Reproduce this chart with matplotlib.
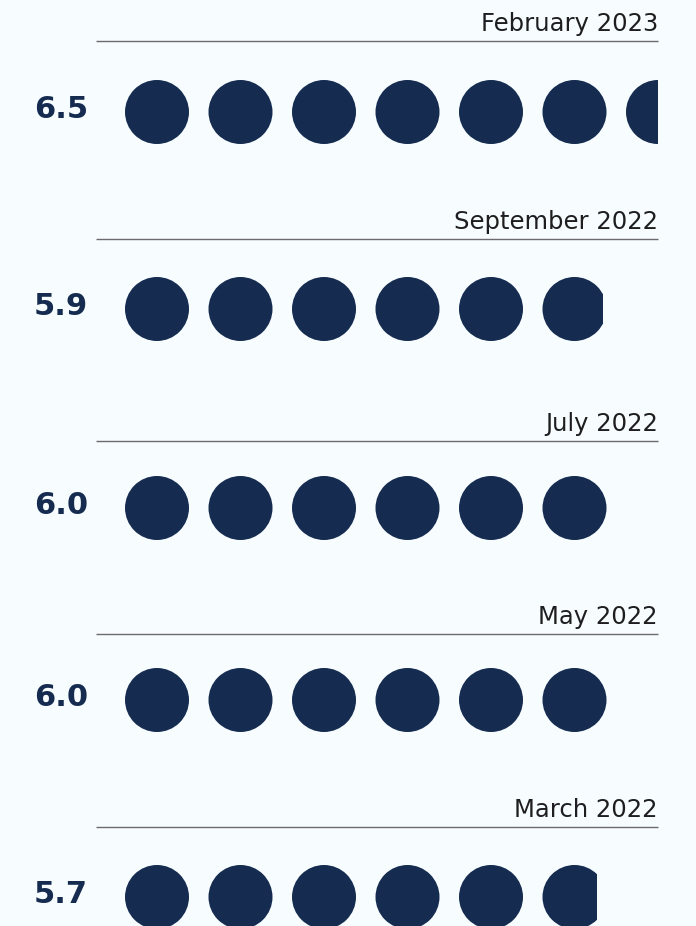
import matplotlib
matplotlib.use("Agg")
import matplotlib.pyplot as plt
from matplotlib.patches import Circle, Rectangle
import math

dates = ["February 2023", "September 2022", "July 2022", "May 2022", "March 2022"]
values = [6.5, 5.9, 6.0, 6.0, 5.7]
value_labels = ["6.5", "5.9", "6.0", "6.0", "5.7"]

# layout (pixels)
W, H = 696, 926
line_y = [41, 239, 441, 634, 827]
dot_y = [112, 309, 508, 700, 897]
x0 = 157
step = 83.5
radius = 32
right_edge = 658
bg = "#F7FCFF"
navy = "#152C50"

fig = plt.figure(figsize=(W / 100, H / 100), dpi=100, facecolor=bg)
ax = fig.add_axes([0, 0, 1, 1])
ax.set_xlim(0, W)
ax.set_ylim(H, 0)
ax.set_facecolor(bg)
ax.axis("off")

for d, v, lab, ly, cy in zip(dates, values, value_labels, line_y, dot_y):
    ax.plot([96, right_edge], [ly, ly], color="#6b6b6b", lw=1.0, solid_capstyle="butt")
    ax.text(right_edge, ly - 10, d, ha="right", va="baseline", fontsize=17.5,
            color="#1e1e1e", family="DejaVu Sans")
    ax.text(34, cy + 6, lab, ha="left", va="baseline", fontsize=22,
            fontweight="heavy", color=navy, family="DejaVu Sans")
    n_full = int(math.floor(v + 1e-9))
    frac = v - n_full
    for i in range(n_full + (1 if frac > 1e-6 else 0)):
        cx = x0 + i * step
        c = Circle((cx, cy), radius, color=navy, lw=0)
        ax.add_patch(c)
        width = 2 * radius
        if i == n_full:
            width = 2 * radius * (1 + frac) / 2
        width = min(width, right_edge - (cx - radius))
        if width < 2 * radius:
            clip = Rectangle((cx - radius - 3, cy - radius - 3), width + 3, 2 * radius + 6,
                             transform=ax.transData, visible=False)
            ax.add_patch(clip)
            c.set_clip_path(clip)

fig.savefig("out.png", dpi=100, facecolor=bg)
